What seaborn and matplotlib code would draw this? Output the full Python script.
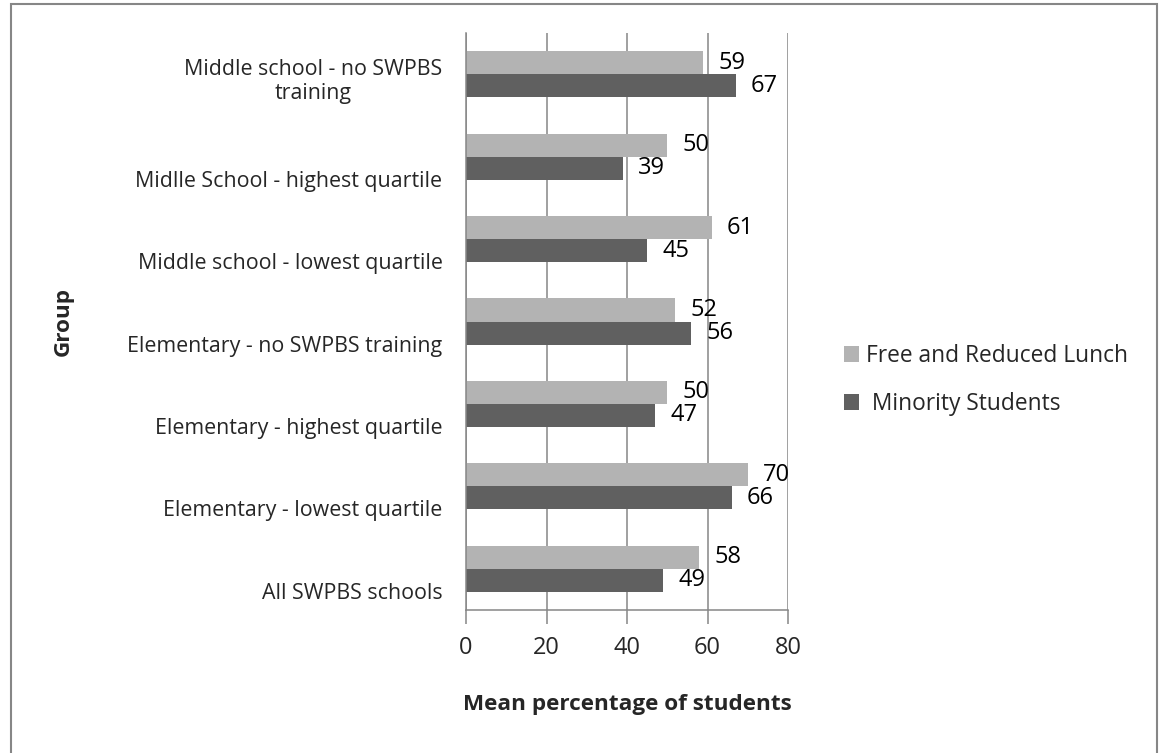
import matplotlib
matplotlib.use("Agg")
import matplotlib.pyplot as plt
import matplotlib.transforms as mtransforms
import seaborn as sns
import pandas as pd
from matplotlib.patches import Rectangle

categories = [
    "Middle school - no SWPBS\ntraining",
    "Midlle School - highest quartile",
    "Middle school - lowest quartile",
    "Elementary - no SWPBS training",
    "Elementary - highest quartile",
    "Elementary - lowest quartile",
    "All SWPBS schools",
]
series_names = ["Free and Reduced Lunch", " Minority Students"]
free_lunch = [59, 50, 61, 52, 50, 70, 58]
minority = [67, 39, 45, 56, 47, 66, 49]
x_ticks = [0, 20, 40, 60, 80]

df = pd.DataFrame({
    "Group": categories * 2,
    "Value": free_lunch + minority,
    "Series": [series_names[0]] * len(categories) + [series_names[1]] * len(categories),
})

sns.set_theme(style="white")
plt.rcParams["font.family"] = ["Open Sans", "DejaVu Sans"]
FS_CAT = 15.4
FS_NUM = 17.0
FS_LEG = 16.4
FS_TITLE = 16.2
grid_c = "#868686"

fig = plt.figure(figsize=(11.62, 7.53), dpi=100)
ax = fig.add_axes([466 / 1162, 1 - 610 / 753, (788 - 466) / 1162, (610 - 33) / 753])

sns.barplot(data=df, y="Group", x="Value", hue="Series", order=categories,
            hue_order=series_names, palette=["#b3b3b3", "#606060"],
            orient="h", width=0.56, ax=ax, saturation=1, legend=True,
            edgecolor="none")

for cont in ax.containers:
    ax.bar_label(cont, padding=11, fontsize=FS_NUM, color="black")

ax.set_xlim(0, 80)
ax.set_xticks(x_ticks)
ax.set_xticklabels([str(t) for t in x_ticks], fontsize=FS_NUM)
ax.tick_params(axis="x", length=10, width=1.1, color=grid_c, direction="out", pad=9, bottom=True)
ax.tick_params(axis="y", length=0, labelsize=FS_CAT, pad=17)
ax.xaxis.grid(True, color=grid_c, linewidth=1.1)
ax.set_axisbelow(True)
for s in ["top", "right"]:
    ax.spines[s].set_visible(False)
for s in ["left", "bottom"]:
    ax.spines[s].set_color(grid_c)
    ax.spines[s].set_linewidth(1.1)

ax.set_xlabel("Mean percentage of students", fontsize=FS_TITLE, fontweight="bold", labelpad=24)
ax.set_ylabel("")
fig.text(63 / 1162, 1 - 321 / 753, "Group", rotation=90, fontsize=FS_TITLE, fontweight="bold",
         ha="center", va="center")

leg = ax.legend(loc="center left", bbox_to_anchor=(823 / 1162, 1 - 380 / 753),
                bbox_transform=fig.transFigure, frameon=False, fontsize=FS_LEG,
                handlelength=0.7, handleheight=0.7, handletextpad=0.3, labelspacing=1.07)

# Category labels sit low in the band, as in the original chart
for lab in ax.get_yticklabels():
    lab.set_multialignment("center")
    shift_px = 3 if "\n" in lab.get_text() else 22
    lab.set_transform(lab.get_transform() +
                      mtransforms.ScaledTranslation(0, -shift_px / 100, fig.dpi_scale_trans))

fig.patches.append(Rectangle((11 / 1162, -0.01), (1157 - 11) / 1162, 1 - 4 / 753 + 0.01,
                             transform=fig.transFigure, fill=False, edgecolor=grid_c,
                             linewidth=1.5))

fig.savefig("out.png", dpi=100, facecolor="white")
